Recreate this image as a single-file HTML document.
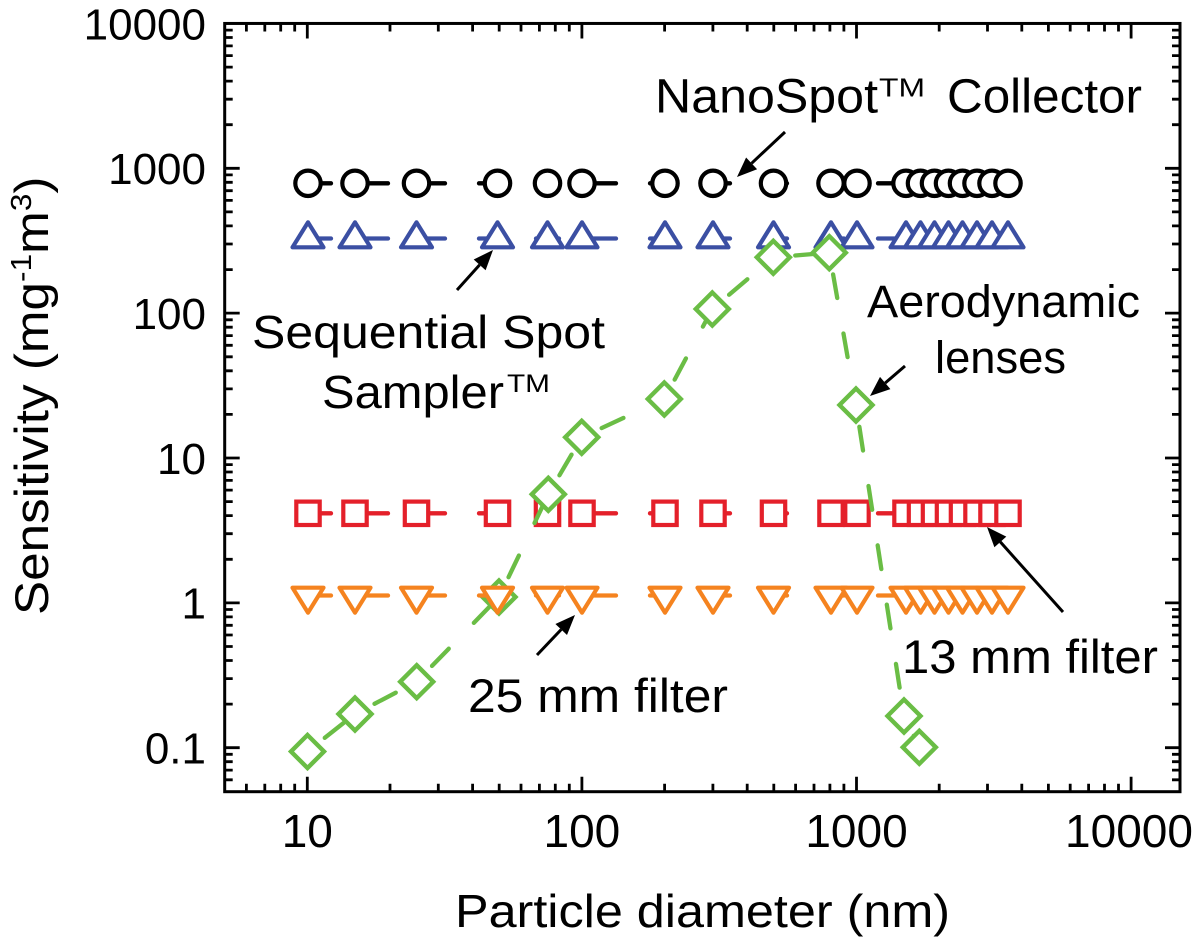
<!DOCTYPE html>
<html><head><meta charset="utf-8"><style>
html,body{margin:0;padding:0;background:#fff;}
svg{display:block;}
text{font-family:"Liberation Sans",Arial,sans-serif;fill:#000;}
</style></head><body>
<svg xmlns="http://www.w3.org/2000/svg" width="1200" height="939" viewBox="0 0 1200 939">
<defs>
<circle id="mc" r="12.7" fill="#fff" stroke="#000" stroke-width="4.2"/>
<path id="mt" d="M0-16.7L15.5 8.3H-15.5Z" fill="#fff" stroke="#3b4fa3" stroke-width="4.2" stroke-linejoin="round"/>
<rect id="ms" x="-11.7" y="-11.7" width="23.4" height="23.4" fill="#fff" stroke="#e4202a" stroke-width="4.2"/>
<path id="mv" d="M0 16.7L15.5-8.3H-15.5Z" fill="#fff" stroke="#f5831f" stroke-width="4.2" stroke-linejoin="round"/>
<path id="md" d="M0-16.5L16.5 0 0 16.5-16.5 0Z" fill="#fff" stroke="#6abd45" stroke-width="4.4"/>
</defs>
<rect width="1200" height="939" fill="#fff"/>

<!-- frame -->
<rect x="224.7" y="23.45" width="955.3" height="768.25" fill="none" stroke="#000" stroke-width="3"/>
<!-- ticks -->
<g stroke="#000" stroke-width="2.8" fill="none">
<path d="M307.3 791.7V776.7M581.9 791.7V776.7M856.5 791.7V776.7M1131.1 791.7V776.7
M307.3 23.45V38.45M581.9 23.45V38.45M856.5 23.45V38.45M1131.1 23.45V38.45"/>
<path d="M246.4 791.7v-8M264.8 791.7v-8M280.7 791.7v-8M294.7 791.7v-8M390 791.7v-8M438.3 791.7v-8M472.6 791.7v-8M499.2 791.7v-8M521 791.7v-8M539.4 791.7v-8M555.3 791.7v-8M569.3 791.7v-8M664.6 791.7v-8M712.9 791.7v-8M747.2 791.7v-8M773.8 791.7v-8M795.6 791.7v-8M814 791.7v-8M829.9 791.7v-8M843.9 791.7v-8M939.2 791.7v-8M987.5 791.7v-8M1021.8 791.7v-8M1048.4 791.7v-8M1070.2 791.7v-8M1088.6 791.7v-8M1104.5 791.7v-8M1118.5 791.7v-8"/>
<path d="M246.4 23.45v8M264.8 23.45v8M280.7 23.45v8M294.7 23.45v8M390 23.45v8M438.3 23.45v8M472.6 23.45v8M499.2 23.45v8M521 23.45v8M539.4 23.45v8M555.3 23.45v8M569.3 23.45v8M664.6 23.45v8M712.9 23.45v8M747.2 23.45v8M773.8 23.45v8M795.6 23.45v8M814 23.45v8M829.9 23.45v8M843.9 23.45v8M939.2 23.45v8M987.5 23.45v8M1021.8 23.45v8M1048.4 23.45v8M1070.2 23.45v8M1088.6 23.45v8M1104.5 23.45v8M1118.5 23.45v8"/>
<path d="M224.7 168.3h15M224.7 313.15h15M224.7 458h15M224.7 602.85h15M224.7 747.7h15
M1180 168.3h-15M1180 313.15h-15M1180 458h-15M1180 602.85h-15M1180 747.7h-15"/>
<path d="M224.7 30.1h8M224.7 37.5h8M224.7 45.9h8M224.7 55.6h8M224.7 67.1h8M224.7 81.1h8M224.7 99.2h8M224.7 124.7h8M224.7 174.9h8M224.7 182.3h8M224.7 190.7h8M224.7 200.4h8M224.7 211.9h8M224.7 225.9h8M224.7 244h8M224.7 269.6h8M224.7 319.8h8M224.7 327.2h8M224.7 335.6h8M224.7 345.3h8M224.7 356.8h8M224.7 370.8h8M224.7 388.9h8M224.7 414.4h8M224.7 464.6h8M224.7 472h8M224.7 480.4h8M224.7 490.1h8M224.7 501.6h8M224.7 515.6h8M224.7 533.7h8M224.7 559.3h8M224.7 609.5h8M224.7 616.9h8M224.7 625.3h8M224.7 635h8M224.7 646.5h8M224.7 660.5h8M224.7 678.6h8M224.7 704.1h8M224.7 754.3h8M224.7 761.7h8M224.7 770.1h8M224.7 779.8h8"/>
<path d="M1180 30.1h-8M1180 37.5h-8M1180 45.9h-8M1180 55.6h-8M1180 67.1h-8M1180 81.1h-8M1180 99.2h-8M1180 124.7h-8M1180 174.9h-8M1180 182.3h-8M1180 190.7h-8M1180 200.4h-8M1180 211.9h-8M1180 225.9h-8M1180 244h-8M1180 269.6h-8M1180 319.8h-8M1180 327.2h-8M1180 335.6h-8M1180 345.3h-8M1180 356.8h-8M1180 370.8h-8M1180 388.9h-8M1180 414.4h-8M1180 464.6h-8M1180 472h-8M1180 480.4h-8M1180 490.1h-8M1180 501.6h-8M1180 515.6h-8M1180 533.7h-8M1180 559.3h-8M1180 609.5h-8M1180 616.9h-8M1180 625.3h-8M1180 635h-8M1180 646.5h-8M1180 660.5h-8M1180 678.6h-8M1180 704.1h-8M1180 754.3h-8M1180 761.7h-8M1180 770.1h-8M1180 779.8h-8"/>
</g>

<!-- tick labels -->
<g font-size="44" text-anchor="end">
<text x="206" y="39.3">10000</text>
<text x="206" y="184.1">1000</text>
<text x="206" y="329">100</text>
<text x="206" y="473.8">10</text>
<text x="206" y="618.7">1</text>
<text x="206" y="763.5">0.1</text>
</g>
<g font-size="46" text-anchor="middle">
<text x="307.3" y="847">10</text>
<text x="581.9" y="847">100</text>
<text x="856.5" y="847">1000</text>
<text x="1129" y="847">10000</text>
</g>

<!-- axis titles -->
<text x="455" y="927" font-size="46" textLength="495" lengthAdjust="spacingAndGlyphs">Particle diameter (nm)</text>
<text transform="translate(48,615) rotate(-90) scale(1.09,1)" font-size="47">Sensitivity (mg<tspan font-size="29" dy="-17">-1</tspan><tspan dy="17">m</tspan><tspan font-size="29" dy="-17">3</tspan><tspan dy="17">)</tspan></text>

<!-- black series -->
<path d="M308 183.3H1008" stroke="#000" stroke-width="4.3" stroke-dasharray="23 34" stroke-linecap="round" fill="none"/>
<g>
<use href="#mc" x="308" y="183.3"/><use href="#mc" x="355" y="183.3"/><use href="#mc" x="416.5" y="183.3"/><use href="#mc" x="497.5" y="183.3"/><use href="#mc" x="547.5" y="183.3"/><use href="#mc" x="582" y="183.3"/><use href="#mc" x="665" y="183.3"/><use href="#mc" x="713" y="183.3"/><use href="#mc" x="773.5" y="183.3"/><use href="#mc" x="831" y="183.3"/><use href="#mc" x="857" y="183.3"/><use href="#mc" x="906" y="183.3"/><use href="#mc" x="920.5" y="183.3"/><use href="#mc" x="934.5" y="183.3"/><use href="#mc" x="948.5" y="183.3"/><use href="#mc" x="962.5" y="183.3"/><use href="#mc" x="977" y="183.3"/><use href="#mc" x="992" y="183.3"/><use href="#mc" x="1008" y="183.3"/>
</g>

<!-- blue series -->
<path d="M308 238.5H1008" stroke="#3b4fa3" stroke-width="4.3" stroke-dasharray="23 34" stroke-linecap="round" fill="none"/>
<g>
<use href="#mt" x="308" y="239"/><use href="#mt" x="355" y="239"/><use href="#mt" x="416.5" y="239"/><use href="#mt" x="497.5" y="239"/><use href="#mt" x="547.5" y="239"/><use href="#mt" x="582" y="239"/><use href="#mt" x="665" y="239"/><use href="#mt" x="713" y="239"/><use href="#mt" x="773.5" y="239"/><use href="#mt" x="831" y="239"/><use href="#mt" x="857" y="239"/><use href="#mt" x="906" y="239"/><use href="#mt" x="920.5" y="239"/><use href="#mt" x="934.5" y="239"/><use href="#mt" x="948.5" y="239"/><use href="#mt" x="962.5" y="239"/><use href="#mt" x="977" y="239"/><use href="#mt" x="992" y="239"/><use href="#mt" x="1008" y="239"/>
</g>

<!-- red series -->
<path d="M308 513.3H1008" stroke="#e4202a" stroke-width="4.3" stroke-dasharray="23 34" stroke-linecap="round" fill="none"/>
<g>
<use href="#ms" x="308" y="513.3"/><use href="#ms" x="355" y="513.3"/><use href="#ms" x="416.5" y="513.3"/><use href="#ms" x="497.5" y="513.3"/><use href="#ms" x="547.5" y="513.3"/><use href="#ms" x="582" y="513.3"/><use href="#ms" x="665" y="513.3"/><use href="#ms" x="713" y="513.3"/><use href="#ms" x="773.5" y="513.3"/><use href="#ms" x="831" y="513.3"/><use href="#ms" x="857" y="513.3"/><use href="#ms" x="906" y="513.3"/><use href="#ms" x="920.5" y="513.3"/><use href="#ms" x="934.5" y="513.3"/><use href="#ms" x="948.5" y="513.3"/><use href="#ms" x="962.5" y="513.3"/><use href="#ms" x="977" y="513.3"/><use href="#ms" x="992" y="513.3"/><use href="#ms" x="1008" y="513.3"/>
</g>

<!-- green series -->
<g stroke="#6abd45" stroke-width="4.3" stroke-dasharray="24 36" stroke-dashoffset="38" stroke-linecap="round" fill="none">
<path d="M307.5 751.5L355 714"/>
<path d="M355 714L416.7 681.7"/>
<path d="M416.7 681.7L499 597"/>
<path d="M499 597L548.3 494.3"/>
<path d="M548.3 494.3L581.7 437.3"/>
<path d="M581.7 437.3L664.3 399"/>
<path d="M664.3 399L712.3 309"/>
<path d="M712.3 309L773.3 257.3"/>
<path d="M773.3 257.3L829.3 252.7"/>
<path d="M829.3 252.7L856 405"/>
<path d="M856 405L904 716"/>
<path d="M904 716L919.3 747.3"/>
</g>
<g>
<use href="#md" x="307.5" y="751.5"/><use href="#md" x="355" y="714"/><use href="#md" x="416.7" y="681.7"/><use href="#md" x="499" y="597"/><use href="#md" x="548.3" y="494.3"/><use href="#md" x="581.7" y="437.3"/><use href="#md" x="664.3" y="399"/><use href="#md" x="712.3" y="309"/><use href="#md" x="773.3" y="257.3"/><use href="#md" x="829.3" y="252.7"/><use href="#md" x="856" y="405"/><use href="#md" x="904" y="716"/><use href="#md" x="919.3" y="747.3"/>
</g>

<!-- orange series -->
<path d="M308 595.5H1008" stroke="#f5831f" stroke-width="4.3" stroke-dasharray="23 34" stroke-linecap="round" fill="none"/>
<g>
<use href="#mv" x="308" y="596"/><use href="#mv" x="355" y="596"/><use href="#mv" x="416.5" y="596"/><use href="#mv" x="497.5" y="596"/><use href="#mv" x="547.5" y="596"/><use href="#mv" x="582" y="596"/><use href="#mv" x="665" y="596"/><use href="#mv" x="713" y="596"/><use href="#mv" x="773.5" y="596"/><use href="#mv" x="831" y="596"/><use href="#mv" x="857" y="596"/><use href="#mv" x="906" y="596"/><use href="#mv" x="920.5" y="596"/><use href="#mv" x="934.5" y="596"/><use href="#mv" x="948.5" y="596"/><use href="#mv" x="962.5" y="596"/><use href="#mv" x="977" y="596"/><use href="#mv" x="992" y="596"/><use href="#mv" x="1008" y="596"/>
</g>

<!-- arrows -->
<g stroke="#000" stroke-width="3" fill="none">
<path d="M785 132L751.6 163.3"/>
<path d="M457 290L479.6 264.9"/>
<path d="M905 366L885.2 383"/>
<path d="M1063 612L1000.3 541.9"/>
<path d="M537 655L561.2 629.5"/>
</g>
<g fill="#000">
<path d="M737 177L746.1 157.5L757.1 169.2Z"/>
<path d="M493 250L485.6 270.2L473.7 259.5Z"/>
<path d="M870 396L880 376.9L890.4 389.1Z"/>
<path d="M987 527L1006.3 536.6L994.4 547.2Z"/>
<path d="M575 615L567 635L555.4 624Z"/>
</g>

<!-- annotations -->
<text x="655" y="112.7" font-size="48" textLength="223" lengthAdjust="spacingAndGlyphs">NanoSpot</text>
<text x="879" y="96.5" font-size="26" textLength="46" lengthAdjust="spacingAndGlyphs">TM</text>
<text x="947" y="112.7" font-size="48" textLength="195" lengthAdjust="spacingAndGlyphs">Collector</text>

<text x="252" y="348" font-size="46" textLength="353" lengthAdjust="spacingAndGlyphs">Sequential Spot</text>
<text x="322" y="408" font-size="46" textLength="182" lengthAdjust="spacingAndGlyphs">Sampler</text>
<text x="507" y="392" font-size="25" textLength="43" lengthAdjust="spacingAndGlyphs">TM</text>

<text x="867" y="317" font-size="45" textLength="273" lengthAdjust="spacingAndGlyphs">Aerodynamic</text>
<text x="935" y="373" font-size="45" textLength="131" lengthAdjust="spacingAndGlyphs">lenses</text>

<text x="468" y="712" font-size="47" textLength="260" lengthAdjust="spacingAndGlyphs">25 mm filter</text>
<text x="902" y="673" font-size="47" textLength="256" lengthAdjust="spacingAndGlyphs">13 mm filter</text>
</svg>
</body></html>
